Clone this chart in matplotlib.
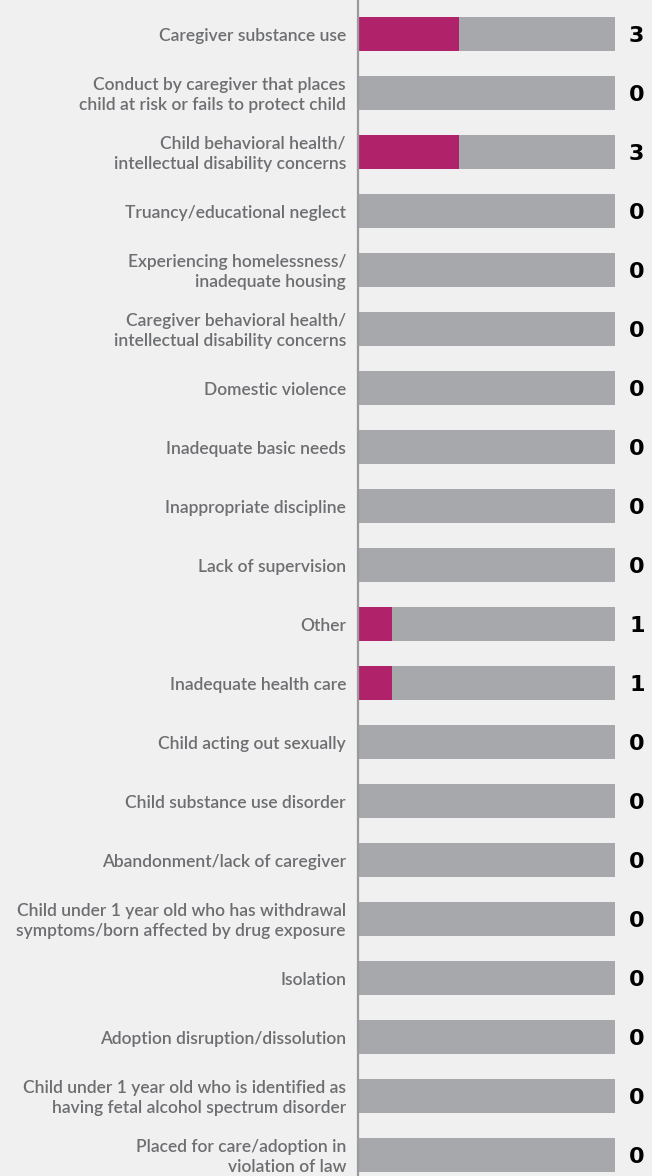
import matplotlib
matplotlib.use("Agg")
import matplotlib.pyplot as plt

categories = [
    "Caregiver substance use",
    "Conduct by caregiver that places\nchild at risk or fails to protect child",
    "Child behavioral health/\nintellectual disability concerns",
    "Truancy/educational neglect",
    "Experiencing homelessness/\ninadequate housing",
    "Caregiver behavioral health/\nintellectual disability concerns",
    "Domestic violence",
    "Inadequate basic needs",
    "Inappropriate discipline",
    "Lack of supervision",
    "Other",
    "Inadequate health care",
    "Child acting out sexually",
    "Child substance use disorder",
    "Abandonment/lack of caregiver",
    "Child under 1 year old who has withdrawal\nsymptoms/born affected by drug exposure",
    "Isolation",
    "Adoption disruption/dissolution",
    "Child under 1 year old who is identified as\nhaving fetal alcohol spectrum disorder",
    "Placed for care/adoption in\nviolation of law",
]
values = [3, 0, 3, 0, 0, 0, 0, 0, 0, 0, 1, 1, 0, 0, 0, 0, 0, 0, 0, 0]
total = 7.7  # full-length background bar

BG = "#f0f0f0"
GRAY = "#a7a8ab"
MAGENTA = "#b0236b"
LABEL = "#6d6e71"

fig = plt.figure(figsize=(6.52, 11.76), dpi=100, facecolor=BG)
ax = fig.add_axes([359 / 652, 0, (615 - 359) / 652, 1])
ax.set_facecolor(BG)

y = list(range(len(categories)))
ax.barh(y, [total] * len(y), height=0.576, color=GRAY, zorder=1)
ax.barh(y, values, height=0.576, color=MAGENTA, zorder=2)

for i, (cat, v) in enumerate(zip(categories, values)):
    # category label left of the axis line
    ax.annotate(cat, xy=(0, i), xytext=(-13, -2), textcoords="offset pixels",
                ha="right", va="center", fontsize=12.5, fontweight="semibold",
                family="Lato", color=LABEL, linespacing=1.33,
                annotation_clip=False)
    # value label right of the bar
    ax.annotate(str(v), xy=(total, i), xytext=(14, -2), textcoords="offset pixels",
                ha="left", va="center", fontsize=16, fontweight="bold",
                family="DejaVu Sans", color="black", annotation_clip=False)

ax.set_xlim(0, total)
ax.set_ylim(19 + 0.356, -0.576)
ax.set_yticks([])
ax.set_xticks([])

for side in ["top", "right", "bottom"]:
    ax.spines[side].set_visible(False)
ax.spines["left"].set_color("#9a9a9a")
ax.spines["left"].set_linewidth(1.6)
ax.spines["left"].set_position(("outward", 1))

fig.savefig("out.png", dpi=100, facecolor=BG)
